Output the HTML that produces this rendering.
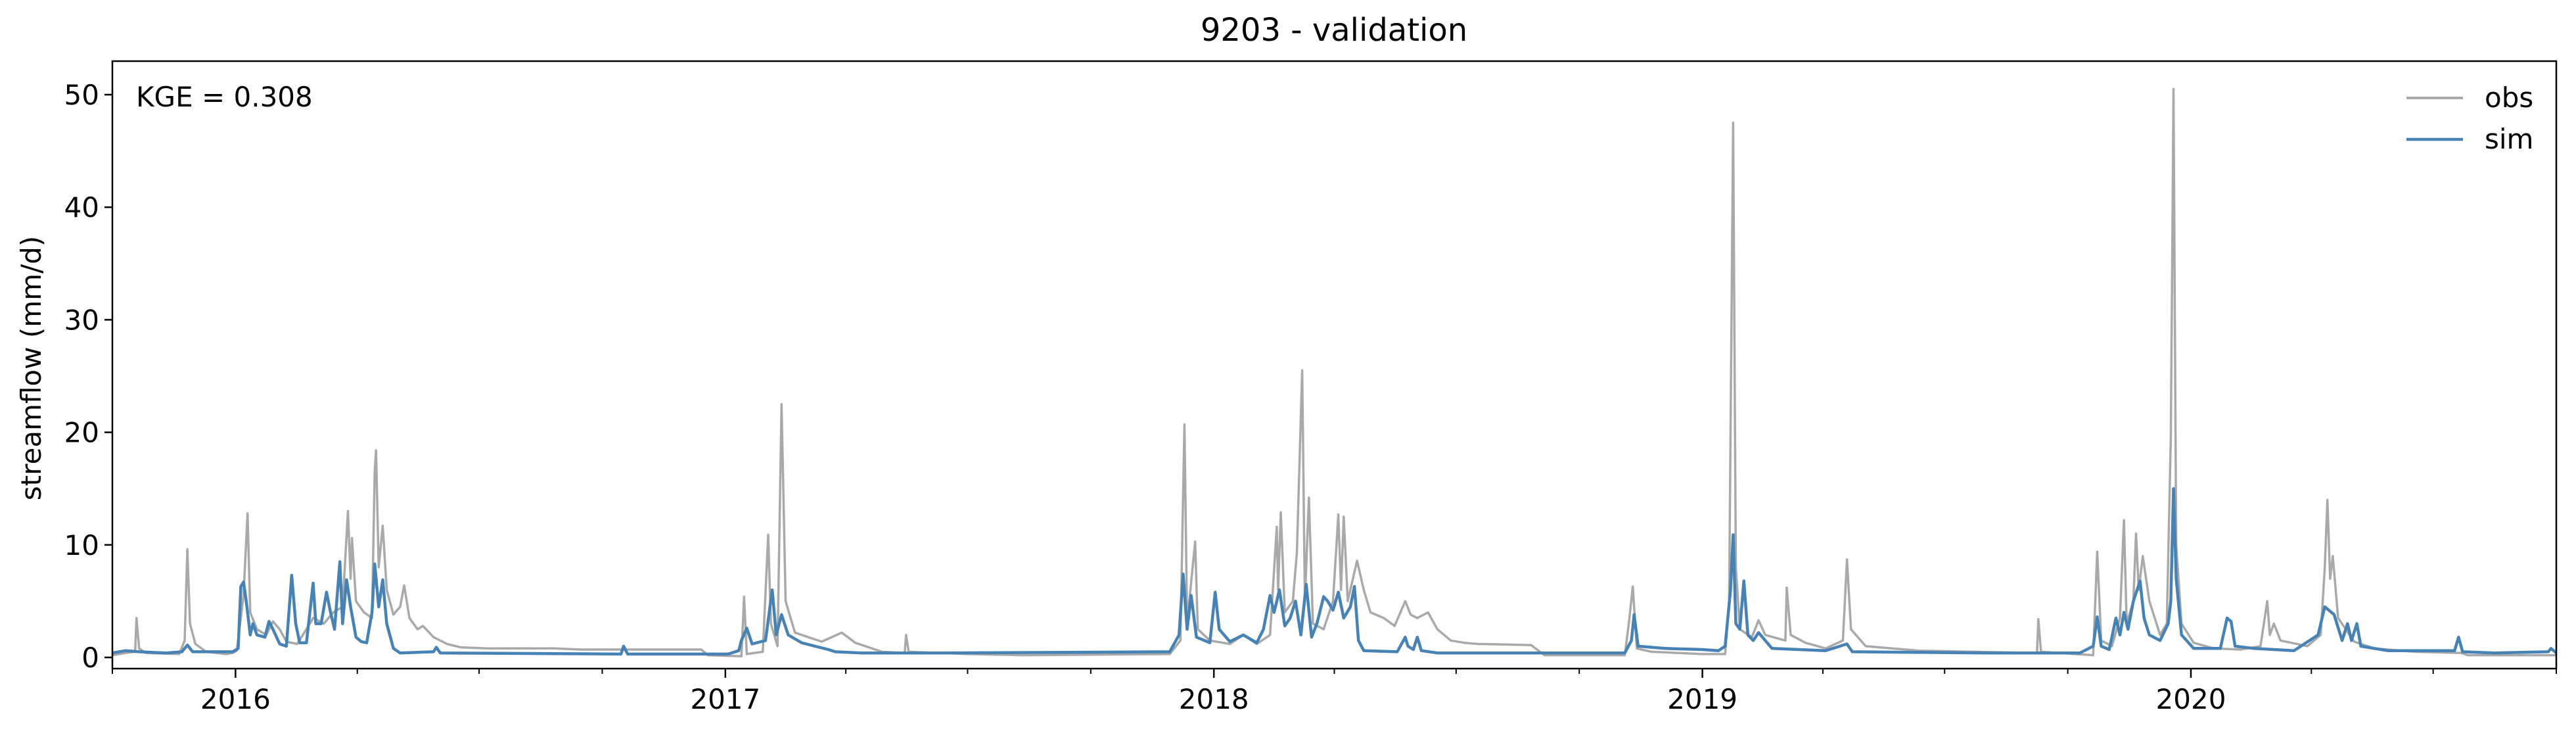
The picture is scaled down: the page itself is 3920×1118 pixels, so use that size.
<!DOCTYPE html>
<html><head><meta charset="utf-8"><style>
html,body{margin:0;padding:0;background:#fff;}
svg{display:block;font-family:"DejaVu Sans","Liberation Sans",sans-serif;}
</style></head><body>
<svg id="chart" width="3920" height="1118" viewBox="0 0 3920 1118" xmlns="http://www.w3.org/2000/svg">
<rect x="0" y="0" width="3920" height="1118" fill="#fff"/>
<text x="2030" y="62" font-size="48" text-anchor="middle">9203 - validation</text>
<g id="plot"></g>
<text x="207" y="162" font-size="42">KGE = 0.308</text>
<text transform="translate(62,560) rotate(-90)" font-size="42" text-anchor="middle">streamflow (mm/d)</text>
<g>
<line x1="3662" y1="149" x2="3748" y2="149" stroke="#a9a9a9" stroke-width="4"/>
<text x="3781" y="163" font-size="42">obs</text>
<line x1="3662" y1="212" x2="3748" y2="212" stroke="#4682b4" stroke-width="4.5"/>
<text x="3781" y="226" font-size="42">sim</text>
</g>
</svg>
<script>
const yTicks = [0, 10, 20, 30, 40, 50];
const yearLabels = ["2016", "2017", "2018", "2019", "2020"];
const yearDays = [92, 458, 823, 1188, 1553];
const minorDays = [0, 183, 274, 366, 548, 639, 731, 913, 1004, 1096, 1278, 1369, 1461, 1643, 1734, 1826];
const obsDays = [0,10,17,18,20,25,50,54,56,58,62,70,85,90,93,98,101,103,108,115,120,125,130,138,145,150,158,165,172,176,178,179,182,188,194,196,197,199,202,205,210,215,218,222,228,232,240,250,260,280,330,350,440,445,470,472,474,486,490,492,497,500,503,510,530,545,555,575,592,593,595,640,680,790,798,801,803,809,811,820,835,845,855,865,870,871,873,876,882,885,889,891,894,897,905,912,916,918,920,923,930,935,940,950,958,966,970,975,983,990,1000,1010,1020,1060,1070,1130,1133,1136,1139,1150,1188,1205,1208,1211,1213,1216,1225,1230,1235,1250,1251,1254,1265,1280,1293,1296,1299,1310,1350,1438,1439,1441,1480,1483,1486,1494,1500,1503,1505,1510,1512,1514,1517,1522,1530,1535,1538,1539,1540,1542,1546,1555,1570,1590,1605,1610,1612,1615,1620,1640,1650,1653,1655,1657,1659,1663,1675,1690,1720,1755,1760,1826];
const obsVals = [0.2,0.4,0.5,3.5,0.8,0.4,0.3,1.5,9.6,3,1.2,0.5,0.3,0.4,0.6,5.5,12.8,4,2.5,2,3.2,2.5,1.4,1.2,2.5,3.5,3,4,4.5,13,7,10.6,5,4,3.5,16.5,18.4,8,11.7,6,3.8,4.5,6.4,3.5,2.5,2.8,1.8,1.2,0.9,0.8,0.8,0.7,0.7,0.2,0.1,5.4,0.3,0.5,10.9,3,1,22.5,5,2.2,1.4,2.2,1.3,0.5,0.4,2,0.5,0.3,0.2,0.3,1.5,20.7,3,10.3,2.5,1.5,1.2,2,1.2,2,11.6,6,12.9,4,5,9.3,25.5,5,14.2,3,2.5,5,12.7,6,12.5,5,8.6,6,4,3.5,2.8,5,3.8,3.5,4,2.5,1.5,1.3,1.2,1.1,0.2,0.2,3,6.3,0.8,0.5,0.3,0.3,5,47.5,8,2.5,1.8,3.3,2,1.5,6.2,2,1.3,0.8,1.5,8.7,2.5,1,0.6,0.4,3.4,0.5,0.2,9.4,1.5,1,3.5,12.2,3,5,11,6,9,5,2,3,19.5,35,50.5,10,3,1.3,0.8,0.7,1,5,2,3,1.5,1,2,8,14,7,9,3.5,1.4,0.8,0.5,0.4,0.2,0.2];
const simDays = [0,10,20,40,52,56,60,90,94,96,98,100,103,105,108,114,117,120,125,130,134,137,140,145,150,152,156,160,163,166,170,172,175,178,182,186,190,194,196,199,202,205,210,215,240,242,245,380,382,385,460,468,470,474,478,488,493,496,500,505,515,525,535,540,560,620,790,797,800,803,806,810,820,824,827,835,845,855,860,865,868,872,876,880,884,888,892,896,900,905,908,912,916,920,925,928,931,935,960,966,968,972,975,978,990,1000,1130,1135,1137,1140,1160,1188,1200,1205,1209,1211,1213,1216,1219,1222,1226,1230,1240,1280,1296,1300,1400,1470,1480,1483,1486,1492,1497,1500,1503,1506,1510,1515,1518,1522,1530,1536,1538,1540,1542,1546,1555,1575,1580,1583,1586,1600,1630,1648,1653,1660,1666,1670,1673,1677,1680,1700,1750,1753,1756,1780,1820,1822,1826];
const simVals = [0.4,0.6,0.5,0.4,0.5,1.1,0.5,0.5,0.8,6.3,6.7,5,2,3,2,1.8,3.2,2.5,1.2,1,7.3,3,1.3,1.3,6.6,3,3,5.8,4,2.5,8.5,3,6.9,4.5,1.8,1.4,1.3,4,8.3,4.5,6.9,3,0.8,0.4,0.5,0.9,0.4,0.3,1,0.3,0.3,0.6,1.5,2.6,1.2,1.5,6,2,3.8,2,1.3,1,0.7,0.5,0.4,0.4,0.5,2,7.4,2.5,5.5,1.8,1.3,5.8,2.5,1.4,2,1.3,2.5,5.5,4,6,2.8,3.5,5,2,6.5,1.8,3,5.4,5,4.2,5.8,3.5,4.5,6.3,1.5,0.6,0.5,1.8,1,0.7,1.8,0.6,0.4,0.4,0.4,1.5,3.8,1,0.8,0.7,0.6,1,6,10.9,3,2.5,6.8,2,1.5,2.2,0.8,0.6,1.2,0.5,0.4,0.4,1,3.6,1,0.7,3.5,2,4,2.5,5,6.8,3.5,2,1.5,3,5,15,7,2,0.8,0.8,3.5,3.2,1,0.8,0.6,2,4.5,3.8,1.5,3,1.5,3,1,0.6,0.6,1.8,0.5,0.4,0.5,0.8,0.4];

const NS = "http://www.w3.org/2000/svg";
const X0 = 171, X1 = 3890, Y0 = 1000, Ytop = 93, Ybot = 1017;
const xOf = d => X0 + d * (X1 - X0) / 1826;
const yOf = v => Y0 - v * 17.12;
const plot = document.getElementById("plot");
function mk(tag, attrs) { const e = document.createElementNS(NS, tag); for (const k in attrs) e.setAttribute(k, attrs[k]); plot.appendChild(e); return e; }

function series(days, vals, color, w, name) {
  let d = "";
  days.forEach((t, i) => { d += (i ? "L" : "M") + xOf(t).toFixed(1) + " " + yOf(vals[i]).toFixed(1); });
  const p = mk("path", { d: d, fill: "none", stroke: color, "stroke-width": w, "stroke-linejoin": "round" });
  
  
}
const clip = mk("clipPath", { id: "clipArea" });
const cr = document.createElementNS(NS, "rect");
cr.setAttribute("x", X0); cr.setAttribute("y", Ytop); cr.setAttribute("width", X1 - X0); cr.setAttribute("height", Ybot - Ytop);
clip.appendChild(cr);
const g = mk("g", { "clip-path": "url(#clipArea)" });


const savePlot = plot;
series(obsDays, obsVals, "#a9a9a9", 3.5, "obs-line");
series(simDays, simVals, "#4682b4", 4.5, "sim-line");
[...plot.querySelectorAll("path")].forEach(p => g.appendChild(p));

const frame = mk("rect", { x: X0, y: Ytop, width: X1 - X0, height: Ybot - Ytop, fill: "none", stroke: "#000", "stroke-width": 2.5 });



yTicks.forEach(v => {
  const t = mk("line", { x1: X0 - 12, x2: X0, y1: yOf(v), y2: yOf(v), stroke: "#000", "stroke-width": 2.5 });
  
  
  const l = mk("text", { x: X0 - 20, y: yOf(v) + 15, "font-size": 42, "text-anchor": "end" });
  
  
  l.textContent = v;
});
minorDays.forEach(d => {
  const t = mk("line", { x1: xOf(d), x2: xOf(d), y1: Ybot, y2: Ybot + 8, stroke: "#000", "stroke-width": 2 });
  
  
});
yearDays.forEach((d, i) => {
  const t = mk("line", { x1: xOf(d), x2: xOf(d), y1: Ybot, y2: Ybot + 14, stroke: "#000", "stroke-width": 2.5 });
  
  
  const l = mk("text", { x: xOf(d), y: 1078, "font-size": 42, "text-anchor": "middle" });
  
  
  l.textContent = yearLabels[i];
});
</script>
</body></html>
